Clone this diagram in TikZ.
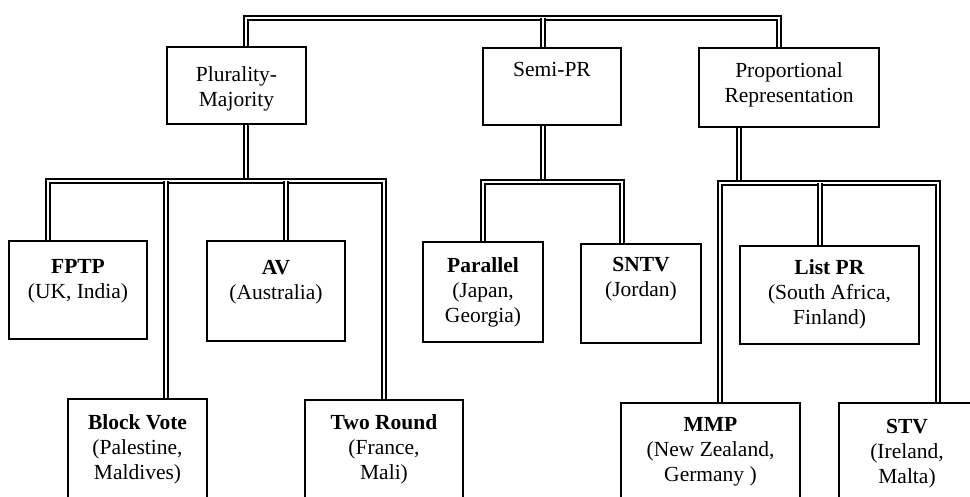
\documentclass[tikz,border=0pt]{standalone}
\usepackage{fontspec}
\setmainfont{Liberation Serif}
\usetikzlibrary{positioning,backgrounds}
\tikzset{
  box/.style={draw, line width=1.4pt, inner sep=0},
  boxtext/.style={inner sep=0, align=center, font=\fontsize{21.5}{25}\selectfont},
  dbl/.style={draw, double, double distance=2.6pt, line width=1.4pt},
}
\begin{document}
\begin{tikzpicture}[x=1pt, y=-1pt]
    \useasboundingbox (0,0) rectangle (970,497);
    \clip (0,0) rectangle (970,497);

    % families
    \node at (236.5,85.5) [box, minimum width=139pt, minimum height=77pt] (pm) {};
    \node [boxtext, below=20pt of pm.north] (pm-t) {Plurality-\\Majority};
    \node at (552,86.5) [box, minimum width=138pt, minimum height=77pt] (semi) {};
    \node [boxtext, below=15pt of semi.north] (semi-t) {Semi-PR};
    \node at (789,87.5) [box, minimum width=180pt, minimum height=79pt] (pr) {};
    \node [boxtext, below=15pt of pr.north] (pr-t) {Proportional\\Representation};

    % systems, upper row
    \node at (78,290) [box, minimum width=138pt, minimum height=98pt] (fptp) {};
    \node [boxtext, below=19pt of fptp.north] (fptp-t) {\textbf{FPTP}\\(UK, India)};
    \node at (276,291) [box, minimum width=138pt, minimum height=100pt] (av) {};
    \node [boxtext, below=20pt of av.north] (av-t) {\textbf{AV}\\(Australia)};
    \node at (483,292) [box, minimum width=120pt, minimum height=100pt] (parallel) {};
    \node [boxtext, below=16pt of parallel.north] (parallel-t) {\textbf{Parallel}\\(Japan,\\Georgia)};
    \node at (641,293.5) [box, minimum width=120pt, minimum height=99pt] (sntv) {};
    \node [boxtext, below=14pt of sntv.north] (sntv-t) {\textbf{SNTV}\\(Jordan)};
    \node at (829.5,295) [box, minimum width=179pt, minimum height=98pt] (list) {};
    \node [boxtext, below=14pt of list.north] (list-t) {\textbf{List PR}\\(South Africa,\\Finland)};

    % systems, lower row (cut off by the page)
    \node at (137.5,464) [box, minimum width=139pt, minimum height=130pt] (block) {};
    \node [boxtext, below=16pt of block.north] (block-t) {\textbf{Block Vote}\\(Palestine,\\Maldives)};
    \node at (384,465) [box, minimum width=158pt, minimum height=130pt] (two) {};
    \node [boxtext, below=15pt of two.north] (two-t) {\textbf{Two Round}\\(France,\\Mali)};
    \node at (710.5,468) [box, minimum width=179pt, minimum height=130pt] (mmp) {};
    \node [boxtext, below=15pt of mmp.north] (mmp-t) {\textbf{MMP}\\(New Zealand,\\Germany )};
    \node at (907,468) [box, minimum width=136pt, minimum height=130pt] (stv) {};
    \node [boxtext, below=17pt of stv.north] (stv-t) {\textbf{STV}\\(Ireland,\\Malta)};

    % junctions on the buses
    \coordinate (pm-up) at (246,18);
    \coordinate (semi-up) at (543,18);
    \coordinate (pr-up) at (779,18);
    \coordinate (pm-j) at (246,181);
    \coordinate (fptp-j) at (48,181);
    \coordinate (block-j) at (166,181);
    \coordinate (av-j) at (286,181);
    \coordinate (two-j) at (384,181);
    \coordinate (semi-j) at (543,182);
    \coordinate (parallel-j) at (483,182);
    \coordinate (sntv-j) at (622,182);
    \coordinate (pr-j) at (739,183);
    \coordinate (mmp-j) at (720,183);
    \coordinate (list-j) at (820,183);
    \coordinate (stv-j) at (938,183);

    \begin{scope}[on background layer]
        \draw[dbl] (pm-up |- pm.north) -- (pm-up) -- (pr-up) -- (pr-up |- pr.north);
        \draw[dbl] (semi-up) -- (semi-up |- semi.north);

        \draw[dbl] (pm-j |- pm.south) -- (pm-j);
        \draw[dbl] (fptp-j |- fptp.north) -- (fptp-j) -- (two-j) -- (two-j |- two.north);
        \draw[dbl] (block-j) -- (block-j |- block.north);
        \draw[dbl] (av-j) -- (av-j |- av.north);

        \draw[dbl] (semi-j |- semi.south) -- (semi-j);
        \draw[dbl] (parallel-j |- parallel.north) -- (parallel-j) -- (sntv-j) -- (sntv-j |- sntv.north);

        \draw[dbl] (pr-j |- pr.south) -- (pr-j);
        \draw[dbl] (mmp-j |- mmp.north) -- (mmp-j) -- (stv-j) -- (stv-j |- stv.north);
        \draw[dbl] (list-j) -- (list-j |- list.north);
    \end{scope}
\end{tikzpicture}
\end{document}
